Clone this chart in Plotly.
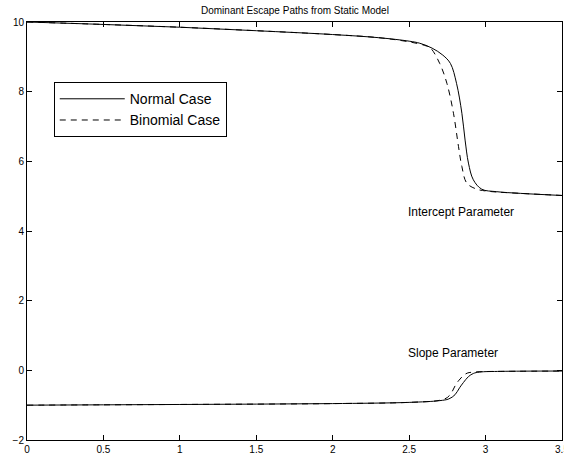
import plotly.graph_objects as go

# Intercept parameter paths
int_normal_x = [0, 0.5, 1.0, 1.5, 2.0, 2.3, 2.5, 2.57, 2.65, 2.72, 2.77, 2.81, 2.845, 2.866, 2.888, 2.92, 2.975, 3.07, 3.23, 3.5]
int_normal_y = [10.0, 9.93, 9.85, 9.75, 9.64, 9.55, 9.45, 9.39, 9.25, 9.05, 8.81, 8.24, 7.38, 6.61, 5.95, 5.47, 5.2, 5.13, 5.08, 5.02]
int_binom_x = [0, 0.5, 1.0, 1.5, 2.0, 2.3, 2.5, 2.6, 2.64, 2.70, 2.747, 2.79, 2.823, 2.845, 2.878, 2.943, 3.0, 3.07, 3.23, 3.5]
int_binom_y = [10.0, 9.93, 9.85, 9.75, 9.64, 9.55, 9.43, 9.33, 9.25, 8.81, 8.24, 7.38, 6.42, 5.85, 5.37, 5.2, 5.15, 5.12, 5.08, 5.02]

# Slope parameter paths
slope_normal_x = [0, 0.5, 1.0, 1.5, 2.0, 2.5, 2.7, 2.76, 2.8, 2.83, 2.855, 2.888, 2.92, 2.96, 3.1, 3.5]
slope_normal_y = [-1.0, -0.99, -0.98, -0.97, -0.955, -0.92, -0.87, -0.82, -0.7, -0.5, -0.35, -0.18, -0.09, -0.05, -0.03, -0.02]
slope_binom_x = [0, 0.5, 1.0, 1.5, 2.0, 2.5, 2.7, 2.75, 2.78, 2.80, 2.823, 2.855, 2.88, 2.92, 3.0, 3.1, 3.5]
slope_binom_y = [-1.0, -0.99, -0.98, -0.97, -0.955, -0.92, -0.86, -0.78, -0.62, -0.45, -0.3, -0.15, -0.08, -0.05, -0.035, -0.03, -0.02]

x_ticks = [0, 0.5, 1, 1.5, 2, 2.5, 3, 3.5]
x_labels = ["0", "0.5", "1", "1.5", "2", "2.5", "3", "3.5"]
y_ticks = [-2, 0, 2, 4, 6, 8, 10]
y_labels = ["\u22122", "0", "2", "4", "6", "8", "10"]

font = "Liberation Sans, Arial, sans-serif"
line_shape = dict(shape="spline", smoothing=1.0)
fig = go.Figure()
fig.add_trace(go.Scatter(x=int_normal_x, y=int_normal_y, mode="lines", name="Normal Case",
                         line=dict(color="black", width=1, dash="solid", **line_shape)))
fig.add_trace(go.Scatter(x=int_binom_x, y=int_binom_y, mode="lines", name="Binomial Case",
                         line=dict(color="black", width=1, dash="6px,5px", **line_shape)))
fig.add_trace(go.Scatter(x=slope_normal_x, y=slope_normal_y, mode="lines", showlegend=False,
                         line=dict(color="black", width=1, dash="solid", **line_shape)))
fig.add_trace(go.Scatter(x=slope_binom_x, y=slope_binom_y, mode="lines", showlegend=False,
                         line=dict(color="black", width=1, dash="6px,5px", **line_shape)))

fig.add_annotation(x=2.48, y=4.55, text="Intercept Parameter", showarrow=False, xanchor="left",
                   font=dict(size=12, color="black", family=font))
fig.add_annotation(x=2.48, y=0.49, text="Slope Parameter", showarrow=False, xanchor="left",
                   font=dict(size=12, color="black", family=font))
fig.add_annotation(x=0.5, y=1, xref="paper", yref="paper", yshift=12, yanchor="middle",
                   text="Dominant Escape Paths from Static Model",
                   showarrow=False, font=dict(size=10, color="black", family=font))

axis_common = dict(showline=True, linecolor="black", linewidth=1, mirror="ticks", ticks="inside",
                   ticklen=5, tickcolor="black", showgrid=False, zeroline=False,
                   ticklabeloverflow="allow", automargin=False,
                   tickfont=dict(size=10, color="black", family=font))
fig.update_xaxes(range=[0, 3.5], tickvals=x_ticks, ticktext=x_labels, **axis_common)
fig.update_yaxes(range=[-2, 10], tickvals=y_ticks, ticktext=y_labels, **axis_common)

fig.update_layout(
    width=564, height=459,
    margin=dict(l=27, r=2, t=22, b=19, autoexpand=False),
    paper_bgcolor="white", plot_bgcolor="white",
    legend=dict(x=0.05, y=0.856, xanchor="left", yanchor="top", bordercolor="black", borderwidth=1,
                bgcolor="white", itemwidth=65, font=dict(size=14, color="black", family=font),
                tracegroupgap=0),
    font=dict(family=font, color="black"),
)
fig.write_html("out.html")
